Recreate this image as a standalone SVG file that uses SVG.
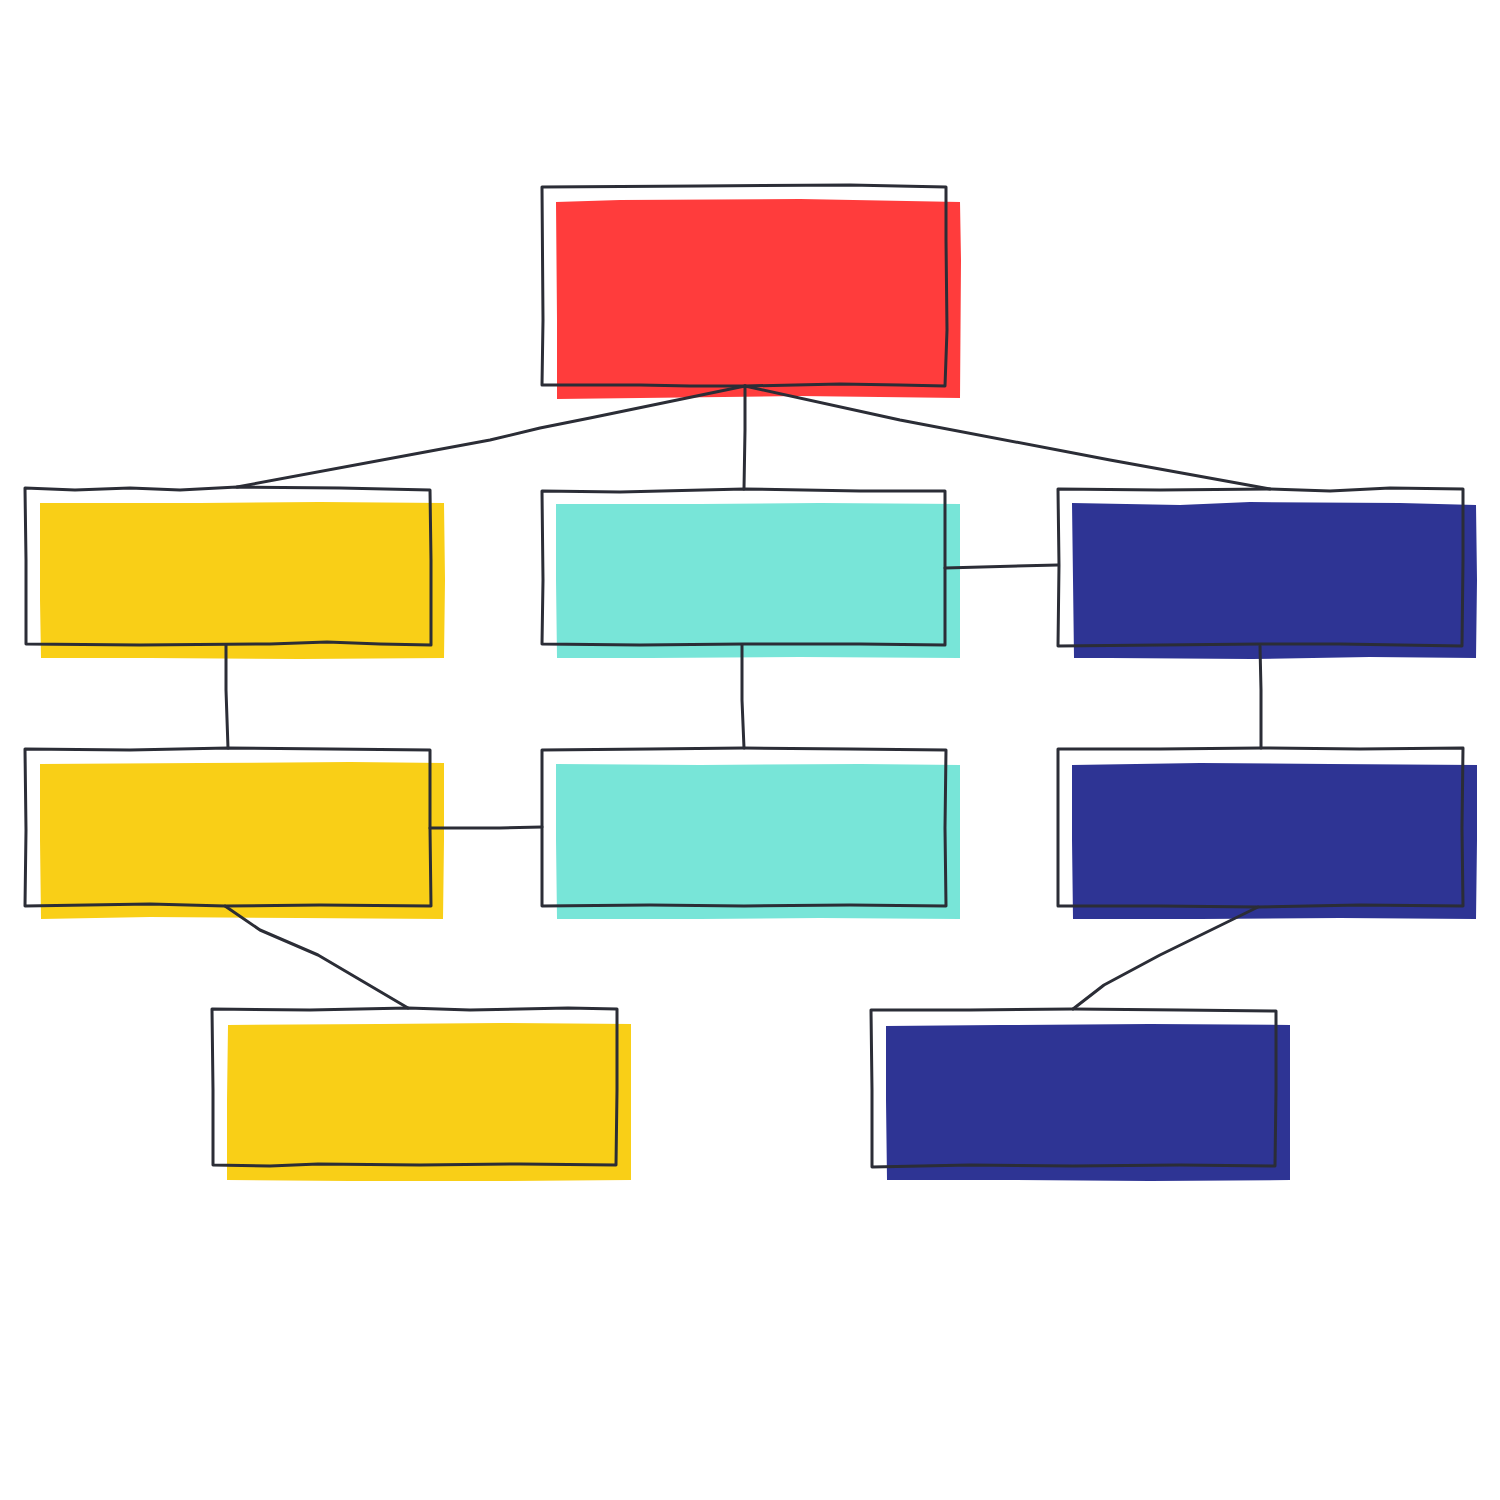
<svg xmlns="http://www.w3.org/2000/svg" width="1500" height="1500" viewBox="0 0 1500 1500">
<style>
.o{fill:none;stroke:#2b2d36;stroke-width:3;stroke-linejoin:round;stroke-linecap:round}
.c{fill:none;stroke:#2b2d36;stroke-width:3;stroke-linejoin:round;stroke-linecap:round}
.red{fill:#FF3C3C}.yel{fill:#F9CF17}.teal{fill:#78E5D8}.navy{fill:#2E3494}
</style>
<rect width="1500" height="1500" fill="#fff"/>
<g id="node-top">
<path class="red" d="M556,202 L620,200 L800,199 L960,202 L961,260 L960,398 L800,396 L640,398 L557,399 L557,320 L556,202Z"/>
<path class="o" d="M542,187 L700,186 L850,185 L946,187 L946,240 L947,330 L945,386 L900,385 L840,384 L745,386 L690,386 L640,385 L600,385 L542,385 L543,320 L542,187Z"/>
</g>
<g id="node-l2">
<path class="yel" d="M40,503 L200,503 L320,502 L444,503 L445,580 L444,658 L300,659 L150,658 L41,658 L40,600 L40,503Z"/>
<path class="o" d="M25,488 L75,490 L130,488 L180,490 L237,487 L340,488 L430,490 L431,560 L431,645 L380,644 L327,642 L270,644 L140,645 L26,644 L26,560 L25,488Z"/>
</g>
<g id="node-m2">
<path class="teal" d="M556,504 L700,504 L820,503 L960,504 L960,580 L960,658 L800,657 L650,658 L557,658 L556,580 L556,504Z"/>
<path class="o" d="M542,491 L620,492 L744,489 L860,491 L945,491 L945,568 L945,645 L860,644 L744,644 L640,645 L542,644 L543,580 L542,491Z"/>
</g>
<g id="node-r2">
<path class="navy" d="M1072,503 L1180,505 L1250,502 L1400,503 L1476,505 L1477,580 L1476,658 L1370,657 L1252,659 L1110,658 L1074,658 L1073,580 L1072,503Z"/>
<path class="o" d="M1058,489 L1160,490 L1270,489 L1330,491 L1390,488 L1463,489 L1463,560 L1462,646 L1340,644 L1262,644 L1160,645 L1058,646 L1059,565 L1058,489Z"/>
</g>
<g id="node-l3">
<path class="yel" d="M40,764 L200,763 L350,762 L444,763 L444,840 L443,919 L300,918 L150,917 L41,919 L40,840 L40,764Z"/>
<path class="o" d="M25,749 L130,750 L228,748 L330,749 L430,750 L430,828 L431,906 L320,905 L225,906 L150,904 L25,906 L26,830 L25,749Z"/>
</g>
<g id="node-m3">
<path class="teal" d="M556,764 L700,765 L860,764 L960,765 L960,840 L960,919 L820,918 L700,919 L557,919 L556,840 L556,764Z"/>
<path class="o" d="M542,750 L650,749 L744,748 L850,749 L946,750 L945,828 L946,906 L850,905 L744,906 L650,905 L542,906 L542,827 L542,750Z"/>
</g>
<g id="node-r3">
<path class="navy" d="M1072,765 L1200,763 L1330,764 L1477,765 L1477,840 L1476,919 L1340,918 L1200,919 L1073,919 L1072,840 L1072,765Z"/>
<path class="o" d="M1058,749 L1160,749 L1261,748 L1360,749 L1463,748 L1462,828 L1463,906 L1360,905 L1258,907 L1160,906 L1058,906 L1058,830 L1058,749Z"/>
</g>
<g id="node-l4">
<path class="yel" d="M228,1025 L380,1024 L500,1023 L631,1024 L631,1100 L631,1180 L500,1181 L350,1181 L227,1180 L227,1100 L228,1025Z"/>
<path class="o" d="M212,1009 L310,1010 L408,1008 L470,1010 L568,1008 L617,1009 L617,1090 L616,1165 L520,1164 L420,1165 L318,1164 L270,1166 L213,1165 L213,1090 L212,1009Z"/>
</g>
<g id="node-r4">
<path class="navy" d="M886,1026 L1000,1025 L1150,1024 L1290,1025 L1290,1100 L1290,1180 L1150,1181 L1000,1180 L887,1180 L886,1100 L886,1026Z"/>
<path class="o" d="M871,1010 L970,1010 L1073,1009 L1180,1010 L1276,1011 L1276,1090 L1275,1166 L1180,1165 L1073,1166 L970,1165 L872,1167 L872,1090 L871,1010Z"/>
</g>
<g id="connectors">
<path class="c" d="M745,386 L590,418 L540,428 L490,440 L237,487"/>
<path class="c" d="M745,386 L745,430 L744,489"/>
<path class="c" d="M745,386 L900,420 L1110,460 L1270,489"/>
<path class="c" d="M226,645 L226,690 L228,748"/>
<path class="c" d="M742,645 L742,700 L744,748"/>
<path class="c" d="M945,568 L1058,565"/>
<path class="c" d="M1260,646 L1261,690 L1261,748"/>
<path class="c" d="M430,828 L500,828 L542,827"/>
<path class="c" d="M225,906 L260,930 L318,955 L408,1008"/>
<path class="c" d="M1258,907 L1160,955 L1104,985 L1073,1009"/>
</g>
</svg>
